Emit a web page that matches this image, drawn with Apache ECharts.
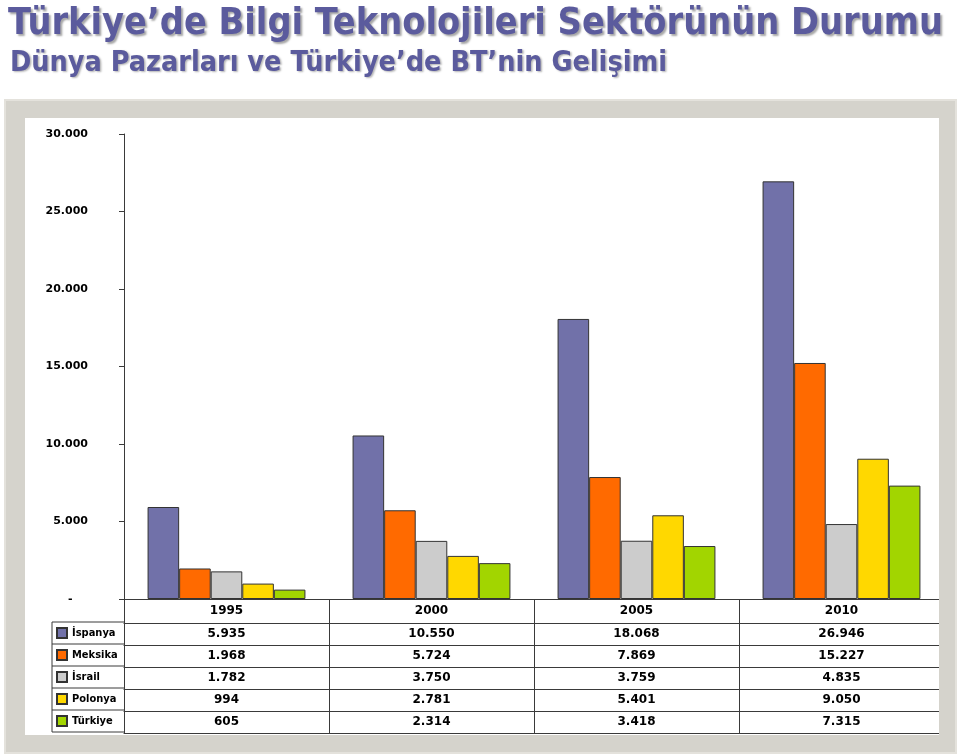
<!DOCTYPE html>
<html>
<head>
<meta charset="utf-8">
<script src="https://cdn.jsdelivr.net/npm/echarts@6/dist/echarts.min.js"></script>
<style>html,body{margin:0;padding:0;background:#fff;}#c{width:959px;height:754px;}</style>
</head>
<body>
<div id="c"></div>
<script>
// ---- data ----
const years = ['1995', '2000', '2005', '2010'];
const seriesNames = ['İspanya', 'Meksika', 'İsrail', 'Polonya', 'Türkiye'];
const ispanya = [5935, 10550, 18068, 26946];
const meksika = [1968, 5724, 7869, 15227];
const israil = [1782, 3750, 3759, 4835];
const polonya = [994, 2781, 5401, 9050];
const turkiye = [605, 2314, 3418, 7315];
const yTicks = { min: 0, max: 30000, interval: 5000 };
const colors = ['#7171a9', '#ff6a00', '#cccccc', '#ffd800', '#a2d500'];

const allData = [ispanya, meksika, israil, polonya, turkiye];

function fmt(v) {
  if (v === 0) return '-    ';
  const s = String(v);
  if (s.length <= 3) return s;
  return s.slice(0, -3) + '.' + s.slice(-3);
}

const lineColor = '#3a3a3a';
const tableFont = { fontFamily: 'DejaVu Sans', fontWeight: 'bold', fontSize: 12, color: '#000' };

const xAxes = [{
  type: 'category', data: years, position: 'bottom', offset: 0,
  axisLine: { show: true, lineStyle: { color: lineColor, width: 1 } },
  axisTick: { show: true, interval: 0, length: 24, lineStyle: { color: lineColor } },
  axisLabel: Object.assign({ margin: 6, interval: 0 }, tableFont)
}];
allData.forEach(function (d, k) {
  xAxes.push({
    type: 'category', data: years, position: 'bottom', offset: 24 + 22 * k,
    axisLine: { show: true, lineStyle: { color: lineColor, width: 1 } },
    axisTick: { show: true, interval: 0, length: 22, lineStyle: { color: lineColor } },
    axisLabel: Object.assign({ margin: 5, interval: 0, formatter: function (v, i) { return fmt(d[i]); } }, tableFont)
  });
});
xAxes.push({
  type: 'category', data: years, position: 'bottom', offset: 134,
  axisLine: { show: true, lineStyle: { color: lineColor, width: 1 } },
  axisTick: { show: false }, axisLabel: { show: false }
});

const series = allData.map(function (d, k) {
  return {
    name: seriesNames[k], type: 'bar', data: d, xAxisIndex: 0,
    barGap: '0%', barCategoryGap: '23%',
    itemStyle: { color: colors[k], borderColor: '#333', borderWidth: 1 },
    emphasis: { disabled: true }
  };
});

// table decoration for the legend column
const leftCol = [];
for (let r = 0; r < 6; r++) {
  leftCol.push({ type: 'line', z: 5, shape: { x1: 52, y1: 622 + 22 * r, x2: 124, y2: 622 + 22 * r }, style: { stroke: lineColor, lineWidth: 1 } });
}
leftCol.push({ type: 'line', z: 5, shape: { x1: 52, y1: 622, x2: 52, y2: 732 }, style: { stroke: lineColor, lineWidth: 1 } });

const frameColor = '#d5d3cc';

const option = {
  animation: false,
  backgroundColor: '#ffffff',
  color: colors,
  title: [{
    text: 'Türkiye’de Bilgi Teknolojileri Sektörünün Durumu',
    left: 3, top: 0,
    textStyle: { fontFamily: 'DejaVu Sans Condensed', fontWeight: 'bold', fontSize: 37.5, color: '#5b5b9d',
      textShadowColor: 'rgba(0,0,0,0.35)', textShadowOffsetX: 2, textShadowOffsetY: 2, textShadowBlur: 2 }
  }, {
    text: 'Dünya Pazarları ve Türkiye’de BT’nin Gelişimi',
    left: 5, top: 44,
    textStyle: { fontFamily: 'DejaVu Sans Condensed', fontWeight: 'bold', fontSize: 28.5, color: '#5b5b9d',
      textShadowColor: 'rgba(0,0,0,0.3)', textShadowOffsetX: 1.5, textShadowOffsetY: 1.5, textShadowBlur: 2 }
  }],
  legend: {
    orient: 'vertical', left: 56, top: 627, padding: 0,
    itemWidth: 10, itemHeight: 10, itemGap: 10,
    icon: 'rect',
    selectedMode: false,
    textStyle: { fontFamily: 'DejaVu Sans Condensed', fontWeight: 'bold', fontSize: 11, color: '#000', padding: 0 },
    data: seriesNames
  },
  grid: { left: 124, right: 15, top: 134, bottom: 155, containLabel: false },
  xAxis: xAxes,
  yAxis: {
    type: 'value', min: yTicks.min, max: yTicks.max, interval: yTicks.interval,
    axisLine: { show: true, lineStyle: { color: lineColor } },
    axisTick: { show: true, length: 5, lineStyle: { color: lineColor } },
    splitLine: { show: false },
    axisLabel: { margin: 36, fontFamily: 'DejaVu Sans', fontWeight: 'bold', fontSize: 11, color: '#000', formatter: fmt }
  },
  graphic: [
    { type: 'rect', z: -10, silent: true, shape: { x: 5, y: 100, width: 951, height: 653 }, style: { fill: frameColor, stroke: '#e4e2dc', lineWidth: 2 } },
    { type: 'rect', z: -9, silent: true, shape: { x: 25, y: 118, width: 914, height: 617 }, style: { fill: '#ffffff' } },
    { type: 'rect', z: 100, silent: true, shape: { x: 939, y: 118, width: 16, height: 634 }, style: { fill: frameColor } }
  ].concat(leftCol),
  series: series
};

const chart = echarts.init(document.getElementById('c'), null, { renderer: 'canvas' });
chart.setOption(option);
</script>
</body>
</html>
